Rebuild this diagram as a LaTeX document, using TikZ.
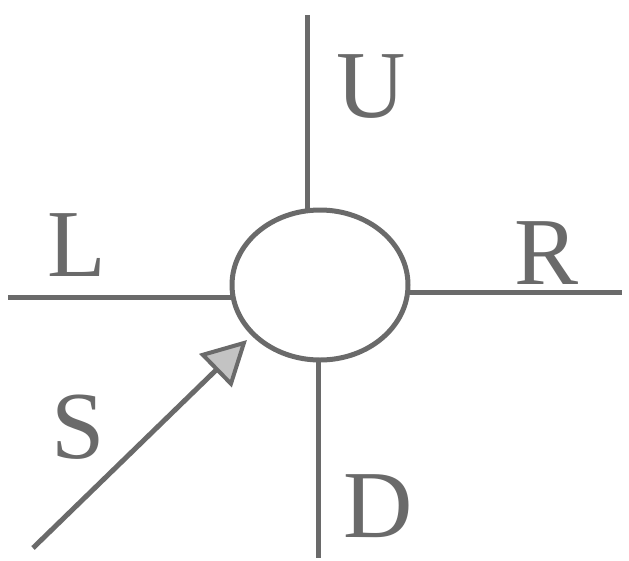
\documentclass[tikz,border=0pt]{standalone}
\usepackage{fontspec}
\setmainfont{Liberation Serif}
\usetikzlibrary{arrows.meta,shapes.geometric}
\definecolor{ink}{HTML}{6A6A6A}
\begin{document}
\begin{tikzpicture}[x=1pt,y=-1pt,
  wire/.style={draw=ink,line width=5pt},
  lab/.style={text=ink,font=\fontsize{96}{96}\selectfont,inner sep=0pt}]
\useasboundingbox[fill=white] (0,0) rectangle (629,560);
\node[draw=ink,line width=5pt,ellipse,minimum width=176pt,minimum height=150pt,inner sep=0pt] (c) at (320,285) {};
\coordinate (ut) at (307,15);
\coordinate (ub) at (307,212);
\coordinate (lt) at (8,297);
\coordinate (lb) at (234,297);
\coordinate (rt) at (622,292);
\coordinate (rb) at (406,292);
\coordinate (dt) at (318,360);
\coordinate (db) at (318,558);
\coordinate (s0) at (33,548);
\coordinate (s1) at (247,340);
\draw[wire,-{Triangle[length=44pt,width=46pt,fill=ink!40,line width=4pt]}] (s0) -- (s1);
\draw[wire] (ut) -- (ub);
\draw[wire] (lt) -- (lb);
\draw[wire] (rb) -- (rt);
\draw[wire] (dt) -- (db);
\node[lab] (U) at (371,87) {U};
\node[lab] (L) at (77,245) {L};
\node[lab] (R) at (547,253) {R};
\node[lab] (S) at (78,427) {S};
\node[lab] (D) at (378,506) {D};
\end{tikzpicture}
\end{document}
